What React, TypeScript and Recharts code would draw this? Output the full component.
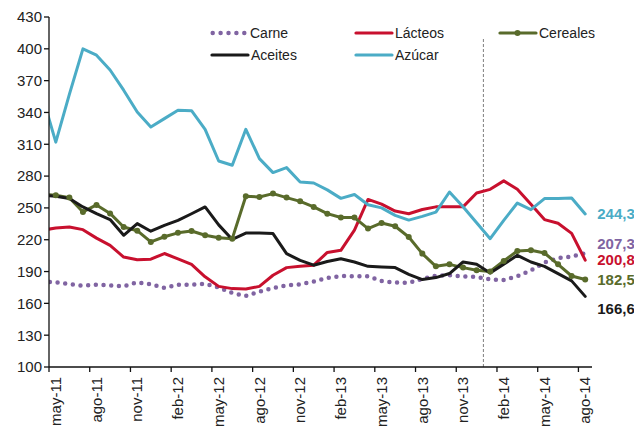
import React from "react";
import { LineChart, Line, XAxis, YAxis, ReferenceLine, Legend, LabelList } from "recharts";

// abr-11 sits just left of the axis; only its clipped segment shows
const months = [
  "abr-11", "may-11", "jun-11", "jul-11", "ago-11", "sep-11", "oct-11", "nov-11", "dic-11",
  "ene-12", "feb-12", "mar-12", "abr-12", "may-12", "jun-12", "jul-12", "ago-12", "sep-12", "oct-12", "nov-12", "dic-12",
  "ene-13", "feb-13", "mar-13", "abr-13", "may-13", "jun-13", "jul-13", "ago-13", "sep-13", "oct-13", "nov-13", "dic-13",
  "ene-14", "feb-14", "mar-14", "abr-14", "may-14", "jun-14", "jul-14", "ago-14",
];

const tickMonths = [
  "may-11", "ago-11", "nov-11", "feb-12", "may-12", "ago-12", "nov-12",
  "feb-13", "may-13", "ago-13", "nov-13", "feb-14", "may-14", "ago-14",
];

const yTicks = [100, 130, 160, 190, 220, 250, 280, 310, 340, 370, 400, 430];

const forecastStart = "ene-14";

const carne = [
  180.5, 180, 178, 176.7, 177.5, 177, 176, 179.8, 178, 174.5, 177.5,
  177.7, 178.5, 175, 169.8, 167, 171, 174.5, 177, 178, 180.5,
  184, 185.8, 185.5, 185.5, 181, 179.6, 179.3, 183, 186, 186.5,
  185.5, 185, 182.5, 182, 185.5, 191, 198.5, 202.7, 204, 207.3,
];

const lacteos = [
  229, 231, 232, 229.5, 221.5, 214.7, 203.7, 201.2, 201.7, 207, 202,
  196.7, 185, 176, 173.9, 173.5, 176, 186.5, 193.7, 195, 196,
  208, 210, 229, 258, 253.5, 247, 244.5, 248.5, 251, 251,
  251, 264, 267.5, 275.5, 267.5, 253.5, 239, 235.5, 226, 200.8,
];

const cereales = [
  263, 262, 259.7, 246.2, 252.8, 244.8, 232, 228.5, 217.9, 222.8, 226.5,
  228.2, 224.2, 221.8, 221, 261, 260.3, 263.5, 259.7, 256.2, 250.9,
  244.6, 240.9, 240.9, 230.5, 235.8, 232.7, 222.6, 206.9, 194.9, 196.8,
  193.7, 191.2, 190, 200, 209.4, 210, 207.5, 196.8, 185.8, 182.5,
];

const aceites = [
  262, 261, 258.8, 250.9, 244.6, 239, 224.2, 235.2, 228, 233.6, 238.3,
  244.5, 250.9, 234, 220.3, 226.3, 226.3, 225.8, 206.9, 200.5, 196,
  199.5, 202, 199, 194.9, 194.3, 193.7, 187.4, 182.4, 184.3, 188.1,
  199, 196.8, 188.6, 196.8, 205.3, 199, 194.9, 188.1, 181.2, 166.6,
];

const azucar = [
  356, 312, 357, 400, 394, 380, 361, 340.4, 326.3, 334.2, 342,
  341.7, 324.1, 294.2, 290.2, 324.1, 296.5, 283.3, 288, 274.4, 273.5,
  267, 259, 262.6, 253, 250, 243, 238.5, 242, 246, 265,
  251, 236, 221, 238.3, 254.6, 248.4, 258.8, 258.8, 259.4, 244.3,
];

const data = months.map((m, k) => ({
  pos: k - 1,
  month: m,
  carne: carne[k],
  lacteos: lacteos[k],
  cereales: cereales[k],
  aceites: aceites[k],
  azucar: azucar[k],
}));

const FONT = "'Liberation Sans', Arial, sans-serif";
const W = 634;
const H = 430;
const M = { top: 17, right: 42, bottom: 0, left: 0 };
const Y_W = 49;
const X_H = 63;
const BAND = (W - M.right - Y_W) / 40;

const series = [
  { key: "carne", name: "Carne", color: "#8064a2", dotted: true, labelDy: -9, leg: [6, 13] },
  { key: "lacteos", name: "Lácteos", color: "#c8102e", labelDy: 0, leg: [151, 13] },
  { key: "cereales", name: "Cereales", color: "#596b2b", marker: true, labelDy: 0, leg: [295, 13] },
  { key: "aceites", name: "Aceites", color: "#1a1a1a", labelDy: 12, leg: [7, 35] },
  { key: "azucar", name: "Azúcar", color: "#4bacc6", labelDy: 0, leg: [151, 35] },
];

const fmt = (v: number) => v.toFixed(1).replace(".", ",");

function MonthTick(props: any) {
  const { x, y, payload } = props;
  const label = months[payload.value + 1];
  const ty = y + 10;
  return (
    <g>
      <line x1={x - BAND / 2} x2={x - BAND / 2} y1={y} y2={y + 5} stroke="#111" strokeWidth={1.3} />
      <text
        x={x}
        y={ty}
        dy="0.35em"
        textAnchor="end"
        transform={`rotate(-90 ${x} ${ty})`}
        fontSize={15}
        fontFamily={FONT}
        fill="#222"
      >
        {label}
      </text>
    </g>
  );
}

function LegendBox() {
  return (
    <svg width={425} height={48} style={{ display: "block" }}>
      {series.map((s) => {
        const [lx, ly] = s.leg;
        return (
          <g key={s.key}>
            {s.dotted ? (
              <line x1={lx + 1.7} x2={lx + 33.5} y1={ly} y2={ly} stroke={s.color} strokeWidth={4.5}
                strokeDasharray="0 7.9" strokeLinecap="round" />
            ) : (
              <line x1={lx} x2={lx + 36} y1={ly} y2={ly} stroke={s.color} strokeWidth={3.2} strokeLinecap="round" />
            )}
            {s.marker && <circle cx={lx + 17.5} cy={ly} r={3} fill={s.color} />}
            <text x={lx + 39} y={ly} dy="0.35em" fontSize={14} fontFamily={FONT} fill="#222">
              {s.name}
            </text>
          </g>
        );
      })}
    </svg>
  );
}

export default function App() {
  const last = data.length - 1;
  const refX = months.indexOf(forecastStart) - 1 - 0.5;
  return (
    <div style={{ position: "absolute", left: 0, top: 0, width: W, height: H, background: "#fff", fontFamily: FONT }}>
      <LineChart width={W} height={H} data={data} margin={M}>
        <XAxis
          type="number"
          dataKey="pos"
          domain={[-0.5, 39.5]}
          allowDataOverflow
          ticks={tickMonths.map((m) => months.indexOf(m) - 1)}
          interval={0}
          height={X_H}
          tickSize={0}
          tickMargin={0}
          tickLine={false}
          axisLine={{ stroke: "#111", strokeWidth: 1.3 }}
          tick={<MonthTick />}
        />
        <YAxis
          type="number"
          domain={[100, 430]}
          ticks={yTicks}
          interval={0}
          width={Y_W}
          tickSize={5}
          tickMargin={2}
          axisLine={{ stroke: "#111", strokeWidth: 1.3 }}
          tickLine={{ stroke: "#111", strokeWidth: 1.3 }}
          tick={{ fontSize: 15, fill: "#222", fontFamily: FONT }}
        />
        <ReferenceLine
          segment={[{ x: refX, y: 100 }, { x: refX, y: 410 }]}
          stroke="#7f7f7f"
          strokeWidth={1}
          strokeDasharray="3 2"
        />
        <Legend
          verticalAlign="middle"
          layout="horizontal"
          wrapperStyle={{ top: 20, left: 205, width: 425, height: 48 }}
          content={() => <LegendBox />}
        />
        {series.map((s) => (
          <Line
            key={s.key}
            type="linear"
            dataKey={s.key}
            name={s.name}
            stroke={s.color}
            strokeWidth={s.dotted ? 4.5 : 3}
            strokeDasharray={s.dotted ? "0 7.7" : undefined}
            strokeLinecap="round"
            strokeLinejoin="round"
            dot={s.marker ? { r: 3, fill: s.color, stroke: "none" } : false}
            activeDot={false}
            isAnimationActive={false}
          >
            <LabelList
              dataKey={s.key}
              content={(p: any) =>
                p.index === last ? (
                  <text
                    x={p.x + 12}
                    y={p.y + s.labelDy}
                    dy="0.35em"
                    fontSize={15}
                    fontWeight="bold"
                    fontFamily={FONT}
                    fill={s.color}
                  >
                    {fmt(p.value)}
                  </text>
                ) : null
              }
            />
          </Line>
        ))}
      </LineChart>
    </div>
  );
}
